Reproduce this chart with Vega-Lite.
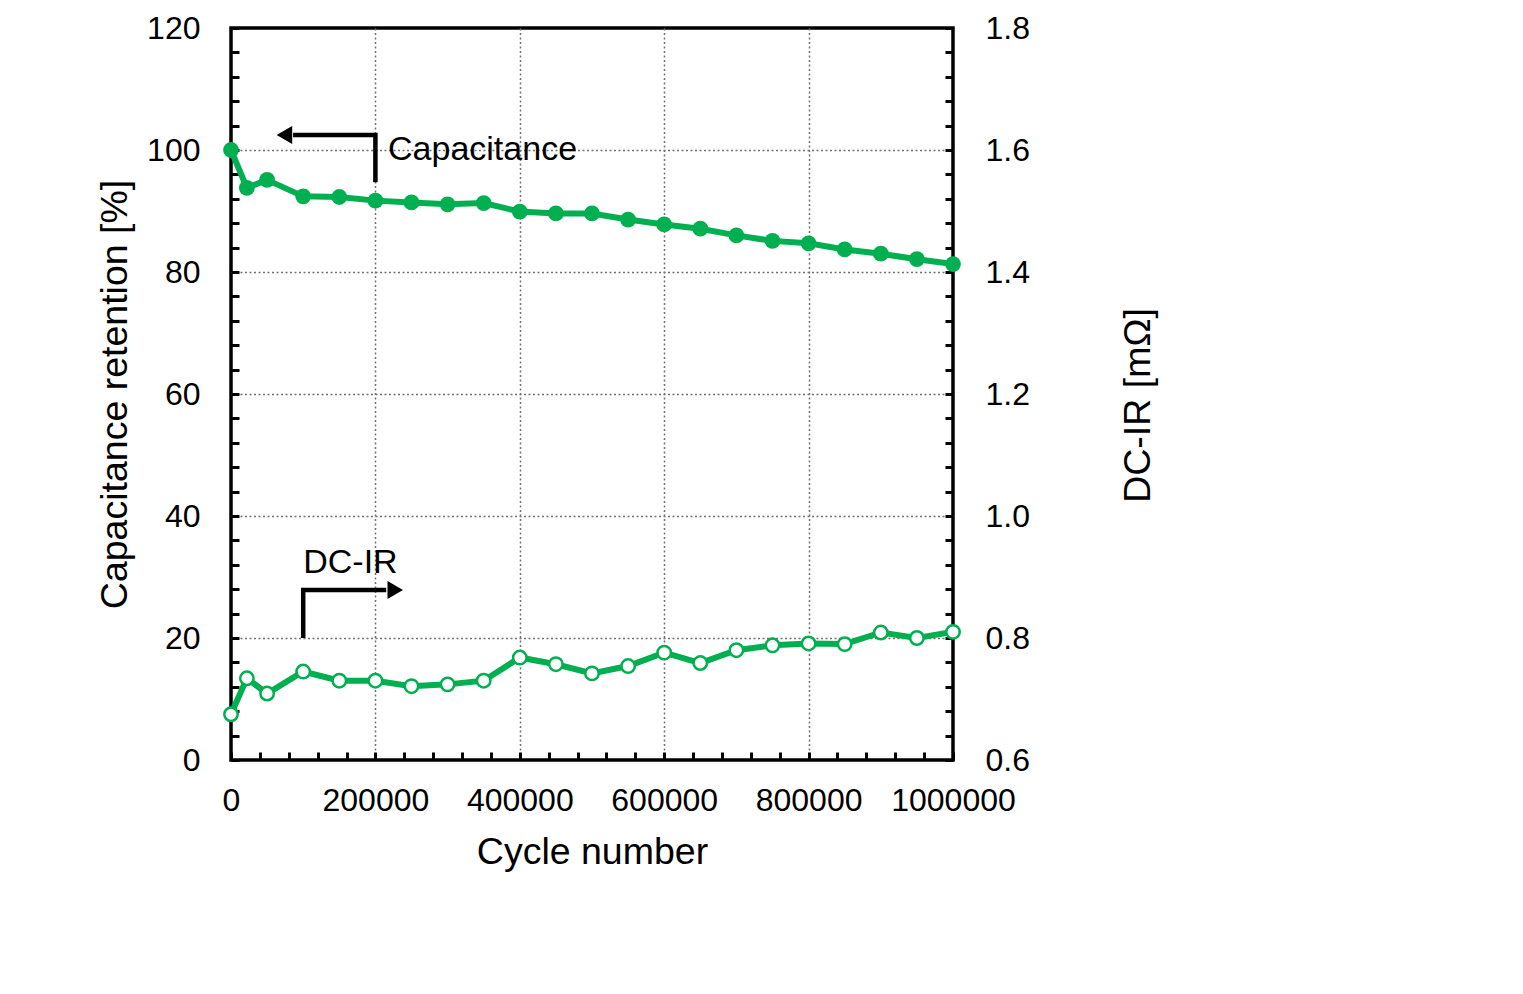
{
  "$schema": "https://vega.github.io/schema/vega-lite/v6.json",
  "width": 722,
  "height": 732,
  "autosize": {"type": "none"},
  "padding": {"left": 231, "top": 28, "right": 570, "bottom": 234},
  "background": "white",
  "config": {
    "view": {"stroke": "black", "strokeWidth": 3.5},
    "font": "Liberation Sans",
    "axis": {
      "domain": false,
      "tickColor": "black",
      "tickWidth": 3,
      "tickSize": -8,
      "tickCount": 200,
      "labelColor": "black",
      "labelFontSize": 32,
      "labelOverlap": false,
      "labelFlush": false,
      "titleColor": "black",
      "titleFontSize": 37.5,
      "titleFontWeight": "normal",
      "titleAlign": "center",
      "titleBaseline": "middle",
      "gridColor": "#707070",
      "gridDash": [2, 2.5],
      "gridWidth": 1.5
    }
  },
  "datasets": {
    "series": [
      {"cycle": 0, "retention": 100.0, "dcir": 0.675},
      {"cycle": 22000, "retention": 93.8, "dcir": 0.734},
      {"cycle": 50000, "retention": 95.1, "dcir": 0.709},
      {"cycle": 100000, "retention": 92.4, "dcir": 0.745},
      {"cycle": 150000, "retention": 92.3, "dcir": 0.730},
      {"cycle": 200000, "retention": 91.7, "dcir": 0.730},
      {"cycle": 250000, "retention": 91.4, "dcir": 0.721},
      {"cycle": 300000, "retention": 91.1, "dcir": 0.724},
      {"cycle": 350000, "retention": 91.3, "dcir": 0.730},
      {"cycle": 400000, "retention": 89.9, "dcir": 0.768},
      {"cycle": 450000, "retention": 89.6, "dcir": 0.757},
      {"cycle": 500000, "retention": 89.6, "dcir": 0.742},
      {"cycle": 550000, "retention": 88.6, "dcir": 0.754},
      {"cycle": 600000, "retention": 87.8, "dcir": 0.776},
      {"cycle": 650000, "retention": 87.1, "dcir": 0.759},
      {"cycle": 700000, "retention": 86.0, "dcir": 0.780},
      {"cycle": 750000, "retention": 85.1, "dcir": 0.788},
      {"cycle": 800000, "retention": 84.7, "dcir": 0.791},
      {"cycle": 850000, "retention": 83.7, "dcir": 0.790},
      {"cycle": 900000, "retention": 83.0, "dcir": 0.809},
      {"cycle": 950000, "retention": 82.1, "dcir": 0.800},
      {"cycle": 1000000, "retention": 81.3, "dcir": 0.810}
    ],
    "arrows": [
      {"arrow": "cap", "step": 1, "cycle": 200000, "retention": 94.7},
      {"arrow": "cap", "step": 2, "cycle": 200000, "retention": 102.46},
      {"arrow": "cap", "step": 3, "cycle": 86000, "retention": 102.46},
      {"arrow": "dc", "step": 1, "cycle": 100000, "retention": 20.0},
      {"arrow": "dc", "step": 2, "cycle": 100000, "retention": 27.87},
      {"arrow": "dc", "step": 3, "cycle": 215000, "retention": 27.87}
    ],
    "heads": [
      {"cycle": 74000, "retention": 102.46, "dir": "left"},
      {"cycle": 227500, "retention": 27.87, "dir": "right"}
    ],
    "notes": [
      {"cycle": 217500, "retention": 100.0, "label": "Capacitance"},
      {"cycle": 100000, "retention": 32.3, "label": "DC-IR"}
    ]
  },
  "layer": [
    {
      "encoding": {
        "x": {
          "field": "cycle",
          "type": "quantitative",
          "scale": {"domain": [0, 1000000], "nice": false, "zero": false},
          "axis": {
            "title": "Cycle number",
            "titleX": 361,
            "titleY": 92,
            "values": [0, 40000, 80000, 120000, 160000, 200000, 240000, 280000, 320000, 360000, 400000, 440000, 480000, 520000, 560000, 600000, 640000, 680000, 720000, 760000, 800000, 840000, 880000, 920000, 960000, 1000000],
            "labelExpr": "datum.value % 200000 === 0 ? format(datum.value, 'd') : ''",
            "labelBaseline": "middle",
            "labelPadding": 48,
            "grid": true,
            "gridOpacity": {"condition": {"test": "datum.value % 200000 === 0 && datum.value > 0 && datum.value < 1000000", "value": 1}, "value": 0}
          }
        },
        "y": {
          "field": "retention",
          "type": "quantitative",
          "scale": {"domain": [0, 120], "nice": false},
          "axis": {
            "title": "Capacitance retention [%]",
            "titleX": -116,
            "titleY": 366,
            "titleAngle": 270,
            "values": [0, 4, 8, 12, 16, 20, 24, 28, 32, 36, 40, 44, 48, 52, 56, 60, 64, 68, 72, 76, 80, 84, 88, 92, 96, 100, 104, 108, 112, 116, 120],
            "labelExpr": "datum.value % 20 === 0 ? format(datum.value, 'd') : ''",
            "labelPadding": 39,
            "grid": true,
            "gridOpacity": {"condition": {"test": "datum.value % 20 === 0 && datum.value > 0 && datum.value < 120", "value": 1}, "value": 0}
          }
        }
      },
      "layer": [
        {
          "data": {"name": "series"},
          "mark": {"type": "line", "color": "#00B050", "strokeWidth": 6}
        },
        {
          "data": {"name": "series"},
          "mark": {"type": "point", "shape": "circle", "filled": true, "color": "#00B050", "opacity": 1, "size": 250}
        },
        {
          "data": {"name": "arrows"},
          "mark": {"type": "line", "color": "black", "strokeWidth": 4.5, "strokeJoin": "miter", "strokeCap": "butt"},
          "encoding": {
            "detail": {"field": "arrow", "type": "nominal"},
            "order": {"field": "step", "type": "quantitative"}
          }
        },
        {
          "data": {"name": "heads"},
          "mark": {"type": "point", "filled": true, "color": "black", "opacity": 1, "size": 320},
          "encoding": {
            "shape": {"field": "dir", "type": "nominal", "scale": {"domain": ["left", "right"], "range": ["triangle-left", "triangle-right"]}, "legend": null}
          }
        },
        {
          "data": {"name": "notes"},
          "mark": {"type": "text", "fontSize": 34, "align": "left", "baseline": "middle", "color": "black", "font": "Liberation Sans"},
          "encoding": {
            "text": {"field": "label", "type": "nominal"}
          }
        }
      ]
    },
    {
      "data": {"name": "series"},
      "encoding": {
        "x": {"field": "cycle", "type": "quantitative"},
        "y": {
          "field": "dcir",
          "type": "quantitative",
          "scale": {"domain": [0.6, 1.8], "nice": false, "zero": false},
          "axis": {
            "orient": "right",
            "title": "DC-IR [mΩ]",
            "titleX": 185,
            "titleY": 377,
            "titleAngle": 270,
            "values": [0.6, 0.64, 0.68, 0.72, 0.76, 0.8, 0.84, 0.88, 0.92, 0.96, 1.0, 1.04, 1.08, 1.12, 1.16, 1.2, 1.24, 1.28, 1.32, 1.36, 1.4, 1.44, 1.48, 1.52, 1.56, 1.6, 1.64, 1.68, 1.72, 1.76, 1.8],
            "labelExpr": "round(datum.value * 100) % 20 === 0 ? format(datum.value, '.1f') : ''",
            "labelPadding": 40,
            "grid": false
          }
        }
      },
      "layer": [
        {
          "mark": {"type": "line", "color": "#00B050", "strokeWidth": 6}
        },
        {
          "mark": {"type": "point", "shape": "circle", "filled": true, "fill": "white", "stroke": "#00B050", "strokeWidth": 2.5, "opacity": 1, "size": 180}
        }
      ]
    }
  ],
  "resolve": {"scale": {"y": "independent"}}
}
